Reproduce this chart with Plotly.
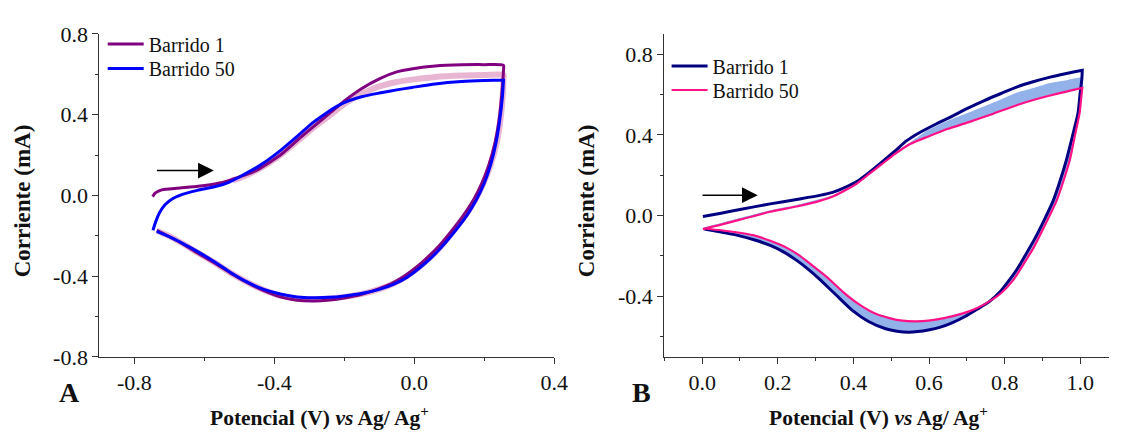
import plotly.graph_objects as go

# ---------------- Panel A data (E in V, I in mA) ----------------
EA1_an = [-0.748, -0.74, -0.728, -0.712, -0.67, -0.618, -0.56, -0.505, -0.45, -0.383, -0.33, -0.289, -0.24, -0.2, -0.15, -0.1, -0.05, 0.0, 0.06, 0.135, 0.2, 0.255]
IA1_an = [-0.006, 0.012, 0.024, 0.03, 0.037, 0.045, 0.06, 0.088, 0.125, 0.2, 0.28, 0.34, 0.41, 0.468, 0.53, 0.578, 0.612, 0.629, 0.641, 0.647, 0.648, 0.645]
EA1_ca = [0.255, 0.25, 0.242, 0.23, 0.213, 0.193, 0.17, 0.14, 0.105, 0.07, 0.038, 0.006, -0.03, -0.065, -0.1, -0.15, -0.2, -0.25, -0.29, -0.34, -0.383, -0.43, -0.477, -0.525, -0.571, -0.62, -0.665, -0.705, -0.736]
IA1_ca = [0.62, 0.5, 0.37, 0.255, 0.15, 0.06, -0.02, -0.1, -0.18, -0.252, -0.307, -0.356, -0.402, -0.437, -0.462, -0.49, -0.508, -0.52, -0.523, -0.518, -0.503, -0.472, -0.432, -0.385, -0.335, -0.285, -0.237, -0.2, -0.173]

EA50_an = [-0.747, -0.74, -0.728, -0.712, -0.69, -0.665, -0.62, -0.571, -0.53, -0.496, -0.44, -0.383, -0.33, -0.289, -0.25, -0.223, -0.19, -0.148, -0.1, -0.05, -0.006, 0.06, 0.135, 0.2, 0.255]
IA50_an = [-0.173, -0.135, -0.085, -0.045, -0.015, 0.004, 0.025, 0.043, 0.065, 0.095, 0.15, 0.222, 0.3, 0.362, 0.41, 0.44, 0.467, 0.49, 0.507, 0.523, 0.535, 0.552, 0.564, 0.569, 0.571]
EA50_ca = [0.255, 0.252, 0.244, 0.233, 0.218, 0.2, 0.178, 0.15, 0.115, 0.08, 0.048, 0.015, -0.02, -0.058, -0.1, -0.148, -0.2, -0.242, -0.29, -0.336, -0.38, -0.43, -0.477, -0.524, -0.57, -0.618, -0.665, -0.712, -0.736]
IA50_ca = [0.571, 0.49, 0.37, 0.255, 0.15, 0.06, -0.02, -0.1, -0.18, -0.252, -0.31, -0.36, -0.405, -0.44, -0.466, -0.485, -0.498, -0.505, -0.507, -0.503, -0.49, -0.466, -0.43, -0.383, -0.33, -0.28, -0.235, -0.196, -0.178]

# intermediate scans (light band) of panel A
EAm = [-0.52, -0.5, -0.44, -0.383, -0.33, -0.289, -0.25, -0.21, -0.18, -0.148, -0.1, -0.05, 0.0, 0.06, 0.135, 0.2, 0.255, 0.255, 0.253, 0.246, 0.235, 0.218, 0.198, 0.175, 0.146, 0.11, 0.077, 0.045, 0.012, -0.024, -0.06, -0.1, -0.15, -0.2, -0.25, -0.29, -0.34, -0.383, -0.43, -0.477, -0.525, -0.571, -0.62, -0.665, -0.705, -0.736]
IAm = [0.075, 0.085, 0.135, 0.2, 0.275, 0.335, 0.385, 0.44, 0.475, 0.505, 0.54, 0.562, 0.575, 0.587, 0.594, 0.597, 0.597, 0.58, 0.5, 0.37, 0.255, 0.15, 0.06, -0.02, -0.1, -0.18, -0.252, -0.308, -0.358, -0.403, -0.438, -0.464, -0.488, -0.503, -0.512, -0.515, -0.51, -0.497, -0.469, -0.431, -0.384, -0.333, -0.283, -0.236, -0.198, -0.175]

# ---------------- Panel B data ----------------
EB1_an = [0.002, 0.05, 0.1, 0.18, 0.25, 0.311, 0.345, 0.372, 0.41, 0.441, 0.475, 0.511, 0.54, 0.572, 0.62, 0.659, 0.7, 0.746, 0.79, 0.833, 0.875, 0.92, 0.96, 1.005]
IB1_an = [-0.005, 0.012, 0.03, 0.058, 0.08, 0.1, 0.115, 0.135, 0.17, 0.213, 0.265, 0.322, 0.37, 0.408, 0.455, 0.49, 0.53, 0.57, 0.605, 0.638, 0.663, 0.686, 0.703, 0.72]
EB1_ca = [1.005, 1.004, 0.999, 0.994, 0.98, 0.963, 0.946, 0.928, 0.905, 0.88, 0.855, 0.833, 0.81, 0.789, 0.76, 0.728, 0.695, 0.659, 0.63, 0.598, 0.57, 0.546, 0.515, 0.485, 0.44, 0.398, 0.355, 0.311, 0.28, 0.25, 0.215, 0.18, 0.137, 0.094, 0.05, 0.006]
IB1_ca = [0.72, 0.68, 0.6, 0.509, 0.4, 0.275, 0.17, 0.073, -0.02, -0.113, -0.195, -0.265, -0.325, -0.375, -0.425, -0.463, -0.5, -0.533, -0.553, -0.567, -0.575, -0.578, -0.573, -0.561, -0.525, -0.471, -0.395, -0.316, -0.265, -0.222, -0.18, -0.148, -0.12, -0.098, -0.082, -0.067]

EB50_an = [0.002, 0.05, 0.1, 0.18, 0.25, 0.311, 0.35, 0.381, 0.41, 0.441, 0.475, 0.511, 0.55, 0.598, 0.65, 0.703, 0.77, 0.833, 0.88, 0.92, 0.96, 1.005]
IB50_an = [-0.067, -0.045, -0.02, 0.019, 0.045, 0.073, 0.098, 0.128, 0.16, 0.205, 0.255, 0.307, 0.355, 0.392, 0.43, 0.462, 0.505, 0.548, 0.575, 0.595, 0.613, 0.633]
EB50_ca = [1.005, 1.002, 0.998, 0.986, 0.972, 0.955, 0.937, 0.903, 0.876, 0.85, 0.824, 0.79, 0.746, 0.715, 0.685, 0.64, 0.598, 0.565, 0.529, 0.495, 0.459, 0.415, 0.372, 0.33, 0.285, 0.255, 0.224, 0.18, 0.137, 0.08, 0.006]
IB50_ca = [0.633, 0.58, 0.509, 0.4, 0.275, 0.17, 0.073, -0.06, -0.16, -0.24, -0.316, -0.385, -0.44, -0.468, -0.487, -0.508, -0.521, -0.524, -0.521, -0.508, -0.487, -0.44, -0.378, -0.305, -0.238, -0.195, -0.16, -0.125, -0.098, -0.08, -0.064]

# upper edge of the intermediate-scan band (anodic branch) of panel B
EBm_an = [0.002, 0.1, 0.18, 0.25, 0.311, 0.35, 0.381, 0.41, 0.441, 0.475, 0.511, 0.55, 0.598, 0.65, 0.703, 0.77, 0.833, 0.88, 0.92, 0.96, 1.005]
IBm_an = [-0.06, -0.012, 0.027, 0.053, 0.082, 0.105, 0.133, 0.165, 0.209, 0.26, 0.315, 0.362, 0.425, 0.47, 0.509, 0.56, 0.61, 0.635, 0.657, 0.67, 0.683]

# ---------------- Ticks ----------------
A_xticks = [-0.8, -0.4, 0.0, 0.4]
A_xtext = ["-0.8", "-0.4", "0.0", "0.4"]
A_xminor = [-0.6, -0.2, 0.2]
A_yticks = [-0.8, -0.4, 0.0, 0.4, 0.8]
A_ytext = ["-0.8", "-0.4", "0.0", "0.4", "0.8"]
A_yminor = [-0.6, -0.2, 0.2, 0.6]
B_xticks = [0.0, 0.2, 0.4, 0.6, 0.8, 1.0]
B_xtext = ["0.0", "0.2", "0.4", "0.6", "0.8", "1.0"]
B_xminor = [-0.1, 0.1, 0.3, 0.5, 0.7, 0.9]
B_yticks = [-0.4, 0.0, 0.4, 0.8]
B_ytext = ["-0.4", "0.0", "0.4", "0.8"]
B_yminor = [-0.6, -0.2, 0.2, 0.6]

FONT = "Liberation Serif"
W, H = 1123, 438

PURPLE = "#800080"
BLUE = "#0000FF"
PINKBAND = "#E8B6D3"
NAVY = "#000080"
HOTPINK = "#FF1188"
BLUEBAND = "#94B2EA"
SPL = dict(shape="spline", smoothing=0.6)

fig = go.Figure()

# ---- Panel A ----
fig.add_trace(go.Scatter(x=EAm, y=IAm, mode="lines", line=dict(color=PINKBAND, width=6, **SPL),
                         showlegend=False, hoverinfo="skip", xaxis="x", yaxis="y"))
fig.add_trace(go.Scatter(x=EA1_an + EA1_ca, y=IA1_an + IA1_ca, mode="lines", name="Barrido 1",
                         line=dict(color=PURPLE, width=3, **SPL), xaxis="x", yaxis="y", legend="legend"))
fig.add_trace(go.Scatter(x=EA50_an + EA50_ca, y=IA50_an + IA50_ca, mode="lines", name="Barrido 50",
                         line=dict(color=BLUE, width=3, **SPL), xaxis="x", yaxis="y", legend="legend2"))

# ---- Panel B ----
fig.add_trace(go.Scatter(x=EBm_an + EB50_an[::-1], y=IBm_an + IB50_an[::-1], mode="lines", fill="toself",
                         fillcolor=BLUEBAND, line=dict(width=0, color=BLUEBAND, **SPL),
                         showlegend=False, hoverinfo="skip", xaxis="x2", yaxis="y2"))
fig.add_trace(go.Scatter(x=EB1_ca + EB50_ca[::-1], y=IB1_ca + IB50_ca[::-1], mode="lines", fill="toself",
                         fillcolor=BLUEBAND, line=dict(width=0, color=BLUEBAND, **SPL),
                         showlegend=False, hoverinfo="skip", xaxis="x2", yaxis="y2"))
fig.add_trace(go.Scatter(x=EB1_an + EB1_ca, y=IB1_an + IB1_ca, mode="lines", name="Barrido 1",
                         line=dict(color=NAVY, width=3, **SPL), xaxis="x2", yaxis="y2", legend="legend3"))
fig.add_trace(go.Scatter(x=EB50_an + EB50_ca, y=IB50_an + IB50_ca, mode="lines", name="Barrido 50",
                         line=dict(color=HOTPINK, width=2.2, **SPL), xaxis="x2", yaxis="y2", legend="legend4"))

ydom = [(H - 365.7) / H, (H - 23.3) / H]
axis_common = dict(showline=True, linecolor="#333333", linewidth=1.3, ticks="outside", ticklen=6, tickwidth=1.3,
                   tickcolor="#333333", showgrid=False, zeroline=False, mirror=False,
                   tickfont=dict(family=FONT, size=22, color="#111111"), tickmode="array")
minor_common = dict(ticks="outside", ticklen=3.5, tickwidth=1.3, tickcolor="#333333", showgrid=False)


def leg(px, py):
    return dict(x=px / W, y=(H - py) / H, xanchor="left", yanchor="middle", bgcolor="rgba(0,0,0,0)",
                borderwidth=0, font=dict(family=FONT, size=20, color="#111111"), itemwidth=36)


fig.update_layout(
    width=W, height=H, margin=dict(l=0, r=0, t=0, b=0),
    paper_bgcolor="white", plot_bgcolor="white",
    font=dict(family=FONT, color="#111111"),
    xaxis=dict(domain=[100.7 / W, 561.2 / W], range=[-0.9, 0.4], anchor="y",
               tickvals=A_xticks, ticktext=A_xtext, minor=dict(tickvals=A_xminor, **minor_common), **axis_common),
    yaxis=dict(domain=ydom, range=[-0.8, 0.8], anchor="x",
               tickvals=A_yticks, ticktext=A_ytext, minor=dict(tickvals=A_yminor, **minor_common), **axis_common),
    xaxis2=dict(domain=[672.7 / W, 1.0], range=[-0.1, 1.0757], anchor="y2",
                tickvals=B_xticks, ticktext=B_xtext, minor=dict(tickvals=B_xminor, **minor_common), **axis_common),
    yaxis2=dict(domain=ydom, range=[-0.7, 0.9], anchor="x2",
                tickvals=B_yticks, ticktext=B_ytext, minor=dict(tickvals=B_yminor, **minor_common), **axis_common),
    legend=leg(104, 34),
    legend2=leg(104, 60),
    legend3=leg(675, 57.3),
    legend4=leg(675, 82.7),
    showlegend=True,
)

ann = []
title_font = dict(family=FONT, size=21.5, color="#111111")
ytitle_font = dict(family=FONT, size=23, color="#111111")
xt = "<b>Potencial (V) <i>vs</i> Ag/ Ag<sup>+</sup></b>"
ann.append(dict(text=xt, x=324 / W, y=(H - 429) / H, xref="paper", yref="paper", showarrow=False,
                xanchor="center", yanchor="middle", font=title_font))
ann.append(dict(text=xt, x=890 / W, y=(H - 429) / H, xref="paper", yref="paper", showarrow=False,
                xanchor="center", yanchor="middle", font=title_font))
ann.append(dict(text="<b>Corriente (mA)</b>", x=23 / W, y=(H - 200) / H, xref="paper", yref="paper", showarrow=False,
                textangle=-90, xanchor="center", yanchor="middle", font=ytitle_font))
ann.append(dict(text="<b>Corriente (mA)</b>", x=594 / W, y=(H - 200) / H, xref="paper", yref="paper", showarrow=False,
                textangle=-90, xanchor="center", yanchor="middle", font=ytitle_font))
ann.append(dict(text="<b>A</b>", x=70 / W, y=(H - 404) / H, xref="paper", yref="paper", showarrow=False,
                xanchor="center", yanchor="middle", font=dict(family=FONT, size=28, color="#111111")))
ann.append(dict(text="<b>B</b>", x=650 / W, y=(H - 404) / H, xref="paper", yref="paper", showarrow=False,
                xanchor="center", yanchor="middle", font=dict(family=FONT, size=28, color="#111111")))
# scan-direction arrows
ann.append(dict(x=-0.573, y=0.123, ax=-0.74, ay=0.123, xref="x", yref="y", axref="x", ayref="y", text="",
                showarrow=True, arrowhead=2, arrowsize=2.1, arrowwidth=1.5, arrowcolor="#000000"))
ann.append(dict(x=0.147, y=0.101, ax=-0.003, ay=0.101, xref="x2", yref="y2", axref="x2", ayref="y2", text="",
                showarrow=True, arrowhead=2, arrowsize=2.1, arrowwidth=1.5, arrowcolor="#000000"))
fig.update_layout(annotations=ann)

fig.write_html("out.html")
